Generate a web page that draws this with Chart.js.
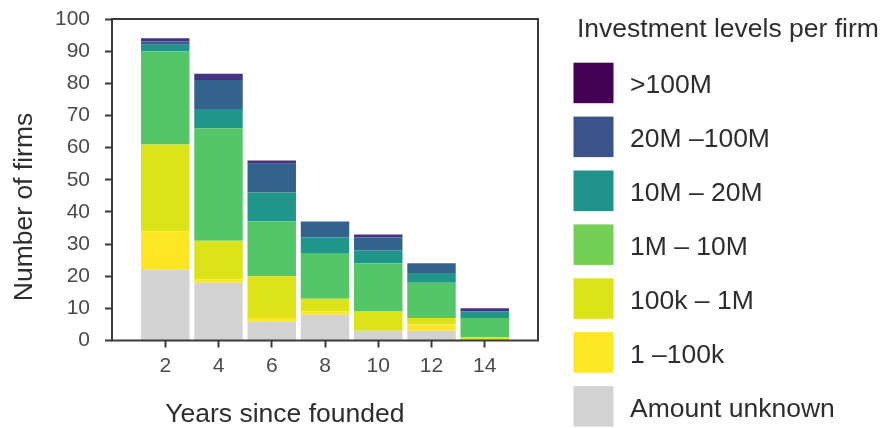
<!DOCTYPE html>
<html>
<head>
<meta charset="utf-8">
<title>Firms by years since founded</title>
<script src="https://cdn.jsdelivr.net/npm/chart.js@4.4.1/dist/chart.umd.min.js"></script>
<style>
  html, body { margin: 0; padding: 0; background: #ffffff; }
  #wrap { position: relative; width: 886px; height: 428px; }
</style>
</head>
<body>
<div id="wrap"><canvas id="chart" width="886" height="428"></canvas></div>
<script>
// Years since the firm was founded (x positions of the stacked bars)
const years = [2, 4, 6, 8, 10, 12, 14];

// Number of firms in each investment bracket, per age group (bottom to top)
const amountUnknown = [22, 18, 6, 8, 3, 3, 0];
const inv1to100k    = [12, 1, 1, 1, 0, 2, 0];
const inv100kto1M   = [27, 12, 13, 4, 6, 2, 1];
const inv1Mto10M    = [29, 35, 17, 14, 15, 11, 6];
const inv10Mto20M   = [2, 6, 9, 5, 4, 3, 2];
const inv20Mto100M  = [1, 9, 9, 5, 4, 3, 0];
const invOver100M   = [1, 2, 1, 0, 1, 0, 1];

// Bracket names, same order as the series above
const bracketNames = ['Amount unknown', '1 \u2013100k', '100k \u2013 1M', '1M \u2013 10M',
                      '10M \u2013 20M', '20M \u2013100M', '>100M'];

// Axis ticks and titles
const yTicks = [0, 10, 20, 30, 40, 50, 60, 70, 80, 90, 100];
const xTitle = 'Years since founded';
const yTitle = 'Number of firms';
const legendTitle = 'Investment levels per firm';

// Styling
const barColors    = ['#d3d3d3', '#fde725', '#dce319', '#55c667', '#20968b', '#33638d', '#46337f'];
const legendColors = ['#d3d3d3', '#fde725', '#dce319', '#73d055', '#21918c', '#3b528b', '#440154'];
const FONT = '"Liberation Sans", Arial, Helvetica, sans-serif';
const frameColor = '#3a3a3a';
const titleColor = '#2e2e2e';
const tickColor = '#4a4a4a';

const seriesValues = [amountUnknown, inv1to100k, inv100kto1M, inv1Mto10M,
                      inv10Mto20M, inv20Mto100M, invOver100M];

const datasets = seriesValues.map((vals, i) => ({
  label: bracketNames[i],
  data: years.map((yr, j) => ({ x: yr, y: vals[j] })),
  backgroundColor: barColors[i],
  borderWidth: 0,
  stack: 'firms',
  barPercentage: 0.91,
  categoryPercentage: 1.0
}));

// Frame, axis titles and the legend panel on the right
const decor = {
  id: 'decor',
  afterDraw(chart) {
    const { ctx, chartArea: a, scales } = chart;
    ctx.save();

    ctx.strokeStyle = frameColor;
    ctx.lineWidth = 2;
    ctx.strokeRect(a.left, a.top, a.right - a.left, a.bottom - a.top);

    ctx.fillStyle = titleColor;
    ctx.font = '26.5px ' + FONT;
    ctx.textBaseline = 'alphabetic';
    ctx.textAlign = 'left';
    ctx.fillText(xTitle, scales.x.getPixelForValue(years[0]), 422);

    ctx.save();
    ctx.translate(32, 207);
    ctx.rotate(-Math.PI / 2);
    ctx.textAlign = 'center';
    ctx.fillText(yTitle, 0, 0);
    ctx.restore();

    // legend: title, then brackets from highest to lowest
    ctx.textAlign = 'left';
    ctx.font = '26.5px ' + FONT;
    ctx.fillText(legendTitle, 577, 37);
    const items = chart.data.datasets.map((d, i) => ({ label: d.label, color: legendColors[i] })).reverse();
    items.forEach((it, i) => {
      const top = 62.7 + 53.9 * i;
      ctx.fillStyle = it.color;
      ctx.fillRect(573.5, top, 40, 40.5);
      ctx.fillStyle = titleColor;
      ctx.fillText(it.label, 630, top + 30.5);
    });

    ctx.restore();
  }
};

new Chart(document.getElementById('chart'), {
  type: 'bar',
  data: { datasets },
  plugins: [decor],
  options: {
    responsive: false,
    animation: false,
    layout: { padding: { left: 0, right: 348, top: 0, bottom: 0 } },
    plugins: {
      legend: { display: false },
      tooltip: { enabled: false },
      title: { display: false }
    },
    scales: {
      x: {
        type: 'linear',
        offset: false,
        min: 0,
        max: 16,
        afterBuildTicks(scale) { scale.ticks = years.map(v => ({ value: v })); },
        afterFit(scale) { scale.height = 87.5; },
        grid: { offset: false, drawOnChartArea: false, drawTicks: true, tickLength: 7, tickWidth: 2, tickColor: frameColor },
        border: { display: false },
        ticks: { color: tickColor, padding: 6, font: { family: FONT, size: 21 } }
      },
      y: {
        stacked: true,
        min: 0,
        max: 100,
        afterBuildTicks(scale) { scale.ticks = yTicks.map(v => ({ value: v })); },
        afterFit(scale) { scale.width = 112; scale.paddingTop = 19; },
        grid: { drawOnChartArea: false, drawTicks: true, tickLength: 7, tickWidth: 2, tickColor: frameColor },
        border: { display: false },
        ticks: { color: tickColor, padding: 15, font: { family: FONT, size: 21 } }
      }
    }
  }
});
</script>
</body>
</html>
